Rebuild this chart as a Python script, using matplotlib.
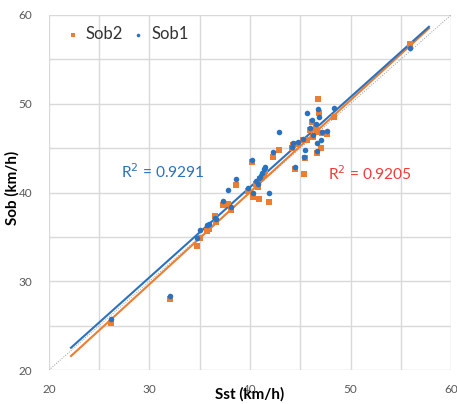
import numpy as np
import matplotlib.pyplot as plt
from matplotlib.ticker import MultipleLocator

plt.rcParams['font.family'] = ['Lato', 'DejaVu Sans']

# Sst vs Sob readings (km/h)
sst = [26.2, 32.0, 34.7, 35.0, 35.7, 35.9, 36.5, 36.6, 37.3, 37.8, 38.1, 38.6,
       39.8, 40.2, 40.3, 40.6, 40.8, 40.9, 41.0, 41.2, 41.4, 41.5, 41.9, 42.3,
       42.9, 44.2, 44.3, 44.5, 44.8, 45.3, 45.4, 45.5, 45.7, 46.0, 46.2, 46.3,
       46.6, 46.7, 46.7, 46.8, 46.9, 47.1, 47.2, 47.7, 48.4, 55.9]
sob1 = [25.8, 28.3, 34.9, 35.8, 36.3, 36.4, 37.1, 37.0, 39.0, 40.3, 38.4, 41.5,
        40.5, 43.7, 40.0, 41.3, 41.0, 41.6, 41.8, 42.2, 42.6, 42.9, 40.0, 44.6,
        46.8, 45.1, 45.6, 42.9, 45.7, 46.0, 44.0, 44.8, 49.0, 47.3, 48.2, 46.5,
        47.7, 45.6, 44.7, 49.4, 48.5, 45.9, 46.8, 46.9, 49.5, 56.3]
sob2 = [25.3, 28.0, 34.0, 34.9, 35.7, 35.9, 37.4, 36.7, 38.6, 38.7, 38.0, 40.9,
        40.2, 43.4, 39.5, 41.0, 40.6, 39.3, 41.5, 41.8, 42.1, 42.4, 38.9, 44.0,
        44.8, 45.0, 45.3, 42.7, 45.5, 45.9, 42.1, 43.9, 45.9, 47.0, 47.9, 46.2,
        47.3, 46.8, 44.5, 50.5, 49.0, 45.0, 46.7, 46.6, 48.5, 56.7]
r2_sob1 = "0.9291"
r2_sob2 = "0.9205"

blue = "#2a72c0"
orange = "#ed7d31"

fig = plt.figure(figsize=(4.57, 4.04), dpi=100)
ax = fig.add_axes([0.107, 0.084, 0.880, 0.879])

x = np.array(sst)
ax.plot([20, 60], [20, 60], color="#9a9a9a", lw=0.7, ls=(0, (1, 1.5)), zorder=1)

ax.scatter(x, sob2, marker="s", s=14, color=orange, label="Sob2", zorder=3, linewidths=0)
ax.scatter(x, sob1, marker="o", s=16, color=blue, label="Sob1", zorder=4, linewidths=0)

# linear trend lines, extended like Excel forecast
xt = np.array([22.2, 57.8])
p1 = np.polyfit(x, sob1, 1)
p2 = np.polyfit(x, sob2, 1)
ax.plot(xt, np.polyval(p2, xt), color=orange, lw=1.5, zorder=2)
ax.plot(xt, np.polyval(p1, xt), color=blue, lw=1.5, zorder=2)

ax.text(31.3, 42.3, "R$^2$ = " + r2_sob1, color=blue, fontsize=11.2,
        ha="center", va="center")
ax.text(51.9, 42.1, "R$^2$ = " + r2_sob2, color="#f03c3c", fontsize=11.2,
        ha="center", va="center")

ax.set_xlim(20, 60)
ax.set_ylim(20, 60)
ax.xaxis.set_major_locator(MultipleLocator(10))
ax.yaxis.set_major_locator(MultipleLocator(10))
ax.xaxis.set_minor_locator(MultipleLocator(5))
ax.yaxis.set_minor_locator(MultipleLocator(5))
ax.grid(True, which="both", color="#d9d9d9", lw=1)
ax.set_axisbelow(True)
for s in ax.spines.values():
    s.set_visible(False)
ax.tick_params(which="both", length=0, labelsize=8.5, labelcolor="#595959")
ax.tick_params(axis="x", pad=10)
ax.tick_params(axis="y", pad=12)

ax.set_xlabel("Sst (km/h)", fontsize=11, fontweight="bold")
ax.xaxis.set_label_coords(0.5, -0.068)
ax.xaxis.label.set_va("center")
ax.set_ylabel("Sob (km/h)", fontsize=11, fontweight="bold")
ax.yaxis.set_label_coords(-0.09, 0.513)
ax.yaxis.label.set_va("center")

ax.legend(loc="upper left", ncol=2, frameon=False, fontsize=12, handletextpad=0.4,
          handlelength=0.8, columnspacing=0.5, markerscale=0.65,
          bbox_to_anchor=(0.005, 1.01), labelcolor="#333333")

fig.savefig("out.png", dpi=100)
